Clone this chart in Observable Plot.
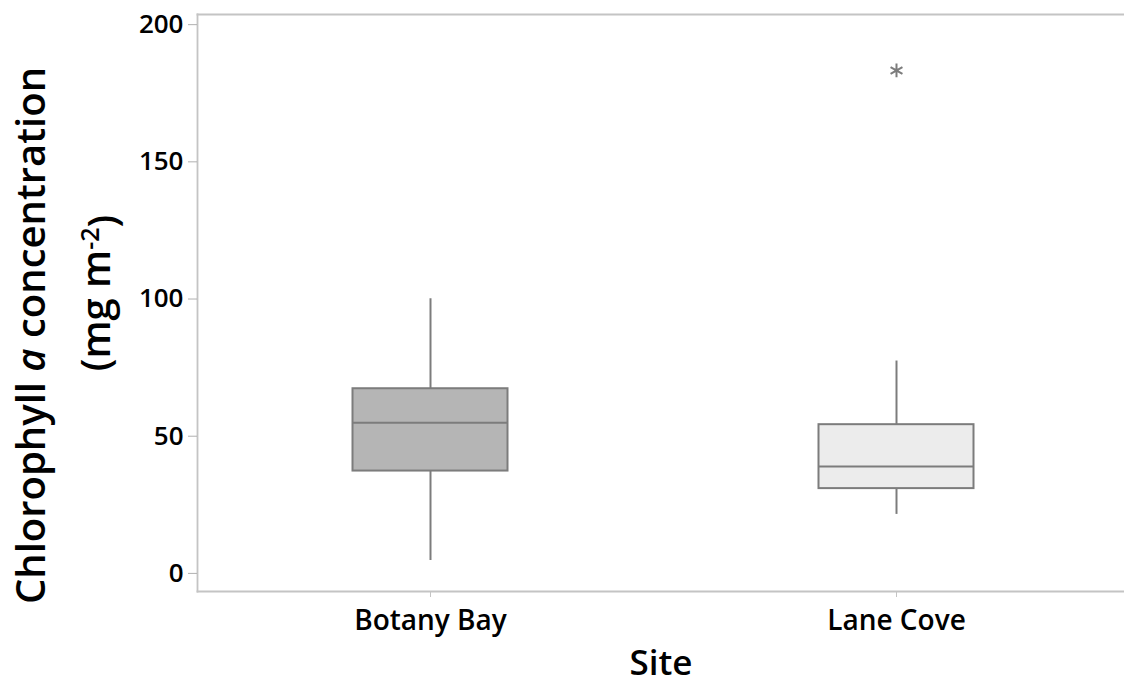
<!DOCTYPE html>
<html><head><meta charset="utf-8">
<script src="https://cdn.jsdelivr.net/npm/d3@7"></script>
<script src="https://cdn.jsdelivr.net/npm/@observablehq/plot@0.6"></script>
<style>html,body{margin:0;padding:0;background:#fff;overflow:hidden} svg{display:block}</style>
</head><body><div id="chart"></div>
<script>
// Data
const sites = ["Botany Bay", "Lane Cove"];
const whiskerLow = [4.7, 21.5];
const q1 = [37.3, 30.9];
const median = [54.9, 39.0];
const q3 = [67.3, 54.2];
const whiskerHigh = [100.1, 77.4];
const outlierSite = ["Lane Cove"];
const outlierValue = [183.3];
const yTicks = [0, 50, 100, 150, 200];

const boxes = sites.map((s, i) => ({site: s, lo: whiskerLow[i], q1: q1[i], med: median[i], q3: q3[i], hi: whiskerHigh[i]}));
const outliers = outlierSite.map((s, i) => ({site: s, v: outlierValue[i]}));

const gray = "#7c7c7c";
const inset = 155.5;
const font = "'Open Sans', 'Noto Sans', sans-serif";

const plot = Plot.plot({
  width: 1124, height: 683,
  marginLeft: 197, marginRight: 0, marginTop: 14, marginBottom: 92,
  style: {fontFamily: font, background: "#fff", overflow: "visible"},
  x: {type: "band", domain: sites, range: [197, 1129], padding: 0},
  y: {domain: [-6.6, 203.7]},
  color: {domain: sites, range: ["#b5b5b5", "#ececec"]},
  marks: [
    Plot.frame({anchor: "left", stroke: "#c4c4c4", strokeWidth: 1.8}),
    Plot.frame({anchor: "top", stroke: "#c4c4c4", strokeWidth: 1.8}),
    Plot.frame({anchor: "bottom", stroke: "#c4c4c4", strokeWidth: 1.8}),
    Plot.axisY({ticks: yTicks, tickSize: 9, tickPadding: 5, fontSize: 26, fontWeight: 600, stroke: "#b0b0b0", fill: "#000", label: null}),
    Plot.axisX({tickSize: 6, tickPadding: 13, fontSize: 28, fontWeight: 600, stroke: "#c4c4c4", fill: "#000", label: null}),
    Plot.ruleX(boxes, {x: "site", y1: "lo", y2: "q1", stroke: gray, strokeWidth: 2}),
    Plot.ruleX(boxes, {x: "site", y1: "q3", y2: "hi", stroke: gray, strokeWidth: 2}),
    Plot.barY(boxes, {x: "site", y1: "q1", y2: "q3", fill: "site", stroke: gray, strokeWidth: 2, insetLeft: inset, insetRight: inset}),
    Plot.tickY(boxes, {x: "site", y: "med", stroke: gray, strokeWidth: 2, insetLeft: inset, insetRight: inset}),
    Plot.dot(outliers, {x: "site", y: "v", symbol: "asterisk", r: 6.5, stroke: gray, strokeWidth: 2})
  ]
});

const svg = d3.select(plot);
const t1 = svg.append("text")
  .attr("transform", "translate(45,335.5) rotate(-90)")
  .attr("text-anchor", "middle")
  .style("font-family", font).style("font-size", "40px").style("font-weight", 600).attr("fill", "#000");
t1.append("tspan").text("Chlorophyll ");
t1.append("tspan").style("font-style", "italic").text("a");
t1.append("tspan").text(" concentration");

const t2 = svg.append("text")
  .attr("transform", "translate(110,293) rotate(-90)")
  .attr("text-anchor", "middle")
  .style("font-family", font).style("font-size", "40px").style("font-weight", 600).attr("fill", "#000");
t2.append("tspan").text("(mg m");
t2.append("tspan").attr("dy", "-0.45em").style("font-size", "25px").text("-2");
t2.append("tspan").attr("dy", "0.45em").text(")");

svg.append("text")
  .attr("x", 661).attr("y", 675)
  .attr("text-anchor", "middle")
  .style("font-family", font).style("font-size", "35px").style("font-weight", 600).attr("fill", "#000")
  .text("Site");

document.getElementById("chart").appendChild(plot);
</script>
</body></html>
